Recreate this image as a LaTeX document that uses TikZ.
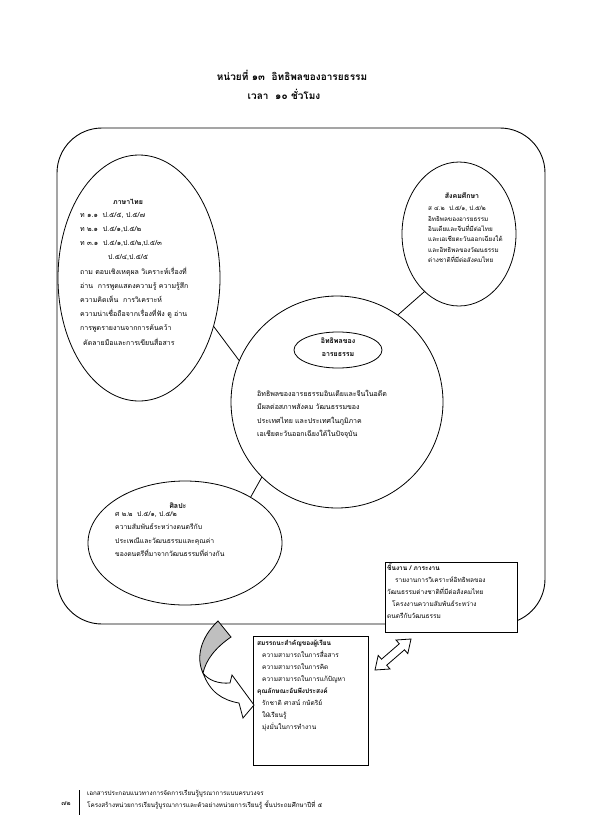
\documentclass[tikz,border=0pt]{standalone}
\usepackage{fontspec}
\newfontfamily\thaifont[Script=Thai]{Loma}
\usetikzlibrary{shapes.geometric}
\newcommand\fsz[2]{\fontsize{#1}{#2}\selectfont}

\begin{document}
\begin{tikzpicture}[x=1pt, y=-1pt, font=\thaifont,
    frame/.style={draw, line width=0.9pt, rounded corners=45pt, inner sep=0pt},
    bubble/.style={draw, ellipse, line width=0.8pt, inner sep=0pt},
    card/.style={draw, fill=white, line width=0.8pt, inner sep=0pt},
    txt/.style={inner sep=0pt, anchor=north west, align=left},
    hd/.style={inner sep=0pt, font=\thaifont\bfseries\fsz{7}{9}},
    link/.style={line width=0.8pt}]
  \useasboundingbox (0,0) rectangle (595,836);

  \node[hd, font=\thaifont\bfseries\fsz{10}{12}] (title) at (292,75) {หน่วยที่ ๑๓ \ อิทธิพลของอารยธรรม};
  \node[hd, font=\thaifont\bfseries\fsz{10}{12}] (hours) at (284,94) {เวลา \ ๑๐ ชั่วโมง};

  \node[frame, minimum width=488pt, minimum height=496pt] (frame) at (301,376) {};

  \node[bubble, minimum width=162pt, minimum height=246pt] (thai) at (139,278) {};
  \node[bubble, minimum width=114pt, minimum height=144pt] (social) at (459,234) {};
  \node[draw, circle, line width=0.8pt, inner sep=0pt, minimum size=212pt] (core) at (337,402) {};
  \node[bubble, fill=white, minimum width=88pt, minimum height=36pt] (topic) at (338,350) {};
  \node[bubble, minimum width=194pt, minimum height=124pt] (arts) at (185,543) {};

  \draw[link] (thai.-33) -- (core.157);
  \draw[link] (social.239) -- (core.55);
  \draw[link] (arts.35) -- (core.225);

  \node[card, minimum width=132pt, minimum height=70pt] (task) at (451,597) {};
  \node[card, minimum width=115pt, minimum height=129pt] (comp) at (310.5,700.5) {};

  \node[hd] (thaihd) at (128,202) {ภาษาไทย};
  \node[txt, font=\thaifont\fsz{7}{14.2}] (thaitxt) at (80,212) {ท ๑.๑ \ ป.๕/๕, ป.๕/๗\\
    ท ๒.๑ \ ป.๕/๑,ป.๕/๒\\
    ท ๓.๑ \ ป.๕/๑,ป.๕/๒,ป.๕/๓\\
    \hspace*{28pt}ป.๕/๔,ป.๕/๕\\
    ถาม ตอบเชิงเหตุผล วิเคราะห์เรื่องที่\\
    อ่าน \ การพูดแสดงความรู้ ความรู้สึก\\
    ความคิดเห็น \ การวิเคราะห์\\
    ความน่าเชื่อถือจากเรื่องที่ฟัง ดู อ่าน\\
    การพูดรายงานจากการค้นคว้า\\
    \hspace*{3pt}คัดลายมือและการเขียนสื่อสาร};

  \node[hd] (socialhd) at (462,196) {สังคมศึกษา};
  \node[txt, font=\thaifont\fsz{6.3}{10.4}] (socialtxt) at (428,206) {ส ๔.๒ \ ป.๕/๑, ป.๕/๒\\
    อิทธิพลของอารยธรรม\\
    อินเดียและจีนที่มีต่อไทย\\
    และเอเชียตะวันออกเฉียงใต้\\
    และอิทธิพลของวัฒนธรรม\\
    ต่างชาติที่มีต่อสังคมไทย};

  \node[hd, align=center, font=\thaifont\bfseries\fsz{7}{13}] (topictxt) at (338,347) {อิทธิพลของ\\อารยธรรม};

  \node[txt, font=\thaifont\fsz{7}{13.5}] (coretxt) at (257,390) {อิทธิพลของอารยธรรมอินเดียและจีนในอดีต\\
    มีผลต่อสภาพสังคม วัฒนธรรมของ\\
    ประเทศไทย และประเทศในภูมิภาค\\
    เอเชียตะวันออกเฉียงใต้ในปัจจุบัน};

  \node[hd] (artshd) at (178,506) {ศิลปะ};
  \node[txt, font=\thaifont\fsz{6.8}{13.5}] (artstxt) at (115,511) {ศ ๒.๒ \ ป.๕/๑, ป.๕/๒\\
    ความสัมพันธ์ระหว่างดนตรีกับ\\
    ประเพณีและวัฒนธรรมและคุณค่า\\
    ของดนตรีที่มาจากวัฒนธรรมที่ต่างกัน};

  \node[txt, font=\thaifont\fsz{6.5}{12}] (tasktxt) at (387,563) {\textbf{ชิ้นงาน / ภาระงาน}\\
    \hspace*{8pt}รายงานการวิเคราะห์อิทธิพลของ\\
    วัฒนธรรมต่างชาติที่มีต่อสังคมไทย\\
    \hspace*{5pt}โครงงานความสัมพันธ์ระหว่าง\\
    ดนตรีกับวัฒนธรรม};

  \node[txt, font=\thaifont\fsz{6.5}{12}] (comptxt) at (257,640) {\textbf{สมรรถนะสำคัญของผู้เรียน}\\
    \hspace*{5pt}ความสามารถในการสื่อสาร\\
    \hspace*{5pt}ความสามารถในการคิด\\
    \hspace*{5pt}ความสามารถในการแก้ปัญหา\\
    \textbf{คุณลักษณะอันพึงประสงค์}\\
    \hspace*{5pt}รักชาติ ศาสน์ กษัตริย์\\
    \hspace*{5pt}ใฝ่เรียนรู้\\
    \hspace*{5pt}มุ่งมั่นในการทำงาน};

  \filldraw[fill=black!25, line width=0.8pt] (218,621) -- (231,637) .. controls (215,648) and (206,660) .. (203,673) .. controls (196,658) and (200,638) .. (218,621) -- cycle;
  \filldraw[fill=white, line width=0.8pt] (203,673) .. controls (210,692) and (222,700) .. (239,703) -- (243,718) -- (254,705) -- (232,675) -- (230,683) .. controls (218,684) and (208,680) .. (203,673) -- cycle;

  \filldraw[fill=white, line width=0.8pt] (375,670) -- (390,669) -- (386.7,665.2) -- (404.5,649.8) -- (407.8,653.6) -- (411,639) -- (396,640) -- (399.3,643.8) -- (381.5,659.2) -- (378.2,655.4) -- cycle;

  \draw[line width=0.8pt] (79,790) -- (79,815);
  \node[inner sep=0pt, font=\thaifont\fsz{6.5}{8}] (page) at (66,804) {๗๒};
  \node[txt, font=\thaifont\fsz{6.3}{12}] (foot) at (87,790) {เอกสารประกอบแนวทางการจัดการเรียนรู้บูรณาการแบบครบวงจร\\
    โครงสร้างหน่วยการเรียนรู้บูรณาการและตัวอย่างหน่วยการเรียนรู้ ชั้นประถมศึกษาปีที่ ๕};
\end{tikzpicture}
\end{document}
